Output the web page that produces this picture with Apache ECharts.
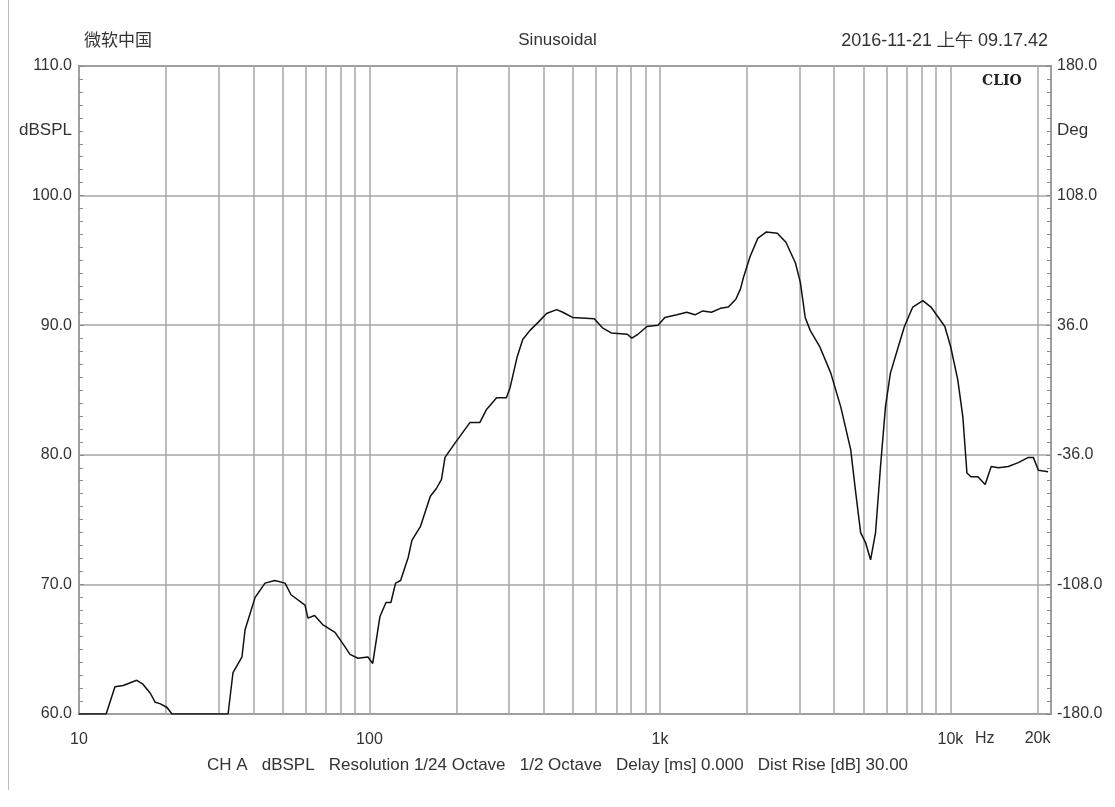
<!DOCTYPE html>
<html>
<head>
<meta charset="utf-8">
<script src="https://cdn.jsdelivr.net/npm/echarts@6/dist/echarts.min.js"></script>
<style>
html,body{margin:0;padding:0;background:#fff;}
#main{width:1115px;height:807px;}
</style>
</head>
<body>
<div id="main"></div>
<script>
// frequency response
var freqs = [10, 12.4, 13.3, 14.2, 15.8, 16.6, 17.6, 18.3, 19.0, 20.1, 20.9,
    32.6, 33.9, 36.4, 37.3, 40.4, 43.7, 47.2, 51.2, 53.7, 60.0, 61.4, 64.7, 69.0,
    76.1, 82.3, 85.7, 91.3, 98.8, 102.6, 108.6, 114, 118.5, 123, 128, 136, 140,
    150, 162, 170, 177, 182, 197, 222, 240, 253, 274, 296, 305, 322, 337, 357,
    380, 407, 441, 463, 500, 594, 634, 680, 772, 800, 840, 902, 985, 1040, 1144,
    1237, 1320, 1405, 1505, 1615, 1720, 1825, 1894, 1940, 2044, 2172, 2326, 2536,
    2715, 2928, 3044, 3163, 3291, 3557, 3875, 4193, 4537, 4720, 4909, 5108, 5312,
    5525, 5747, 5976, 6215, 6570, 6946, 7421, 8037, 8572, 9570, 10030, 10600,
    11040, 11400, 11770, 12440, 13170, 13820, 14630, 15830, 17130, 18550, 19300,
    20090, 21700];
var spl = [60, 60, 62.1, 62.2, 62.6, 62.3, 61.6, 60.9, 60.8, 60.5, 60,
    60, 63.2, 64.4, 66.5, 69.0, 70.1, 70.3, 70.1, 69.2, 68.4, 67.4, 67.6, 66.9,
    66.3, 65.2, 64.6, 64.3, 64.4, 63.9, 67.5, 68.6, 68.6, 70.1, 70.3, 72.1, 73.4,
    74.5, 76.8, 77.4, 78.1, 79.8, 80.9, 82.5, 82.5, 83.5, 84.4, 84.4, 85.2, 87.5, 88.9, 89.6,
    90.2, 90.9, 91.2, 91.0, 90.6, 90.5, 89.8, 89.4, 89.3, 89.0, 89.3, 89.9, 90.0, 90.6, 90.8,
    91.0, 90.8, 91.1, 91.0, 91.3, 91.4, 92.0, 92.8, 93.7, 95.3, 96.7, 97.2, 97.1,
    96.4, 94.8, 93.3, 90.6, 89.6, 88.3, 86.3, 83.7, 80.4, 77.1, 74.0, 73.2, 71.9,
    74.0, 79.1, 83.7, 86.3, 88.1, 89.9, 91.4, 91.9, 91.4, 89.9, 88.3, 85.8,
    82.9, 78.6, 78.3, 78.3, 77.7, 79.1, 79.0, 79.1, 79.4, 79.8, 79.8,
    78.8, 78.7];
// minor vertical grid lines (Hz)
var gridFreqs = [20, 30, 40, 50, 60, 70, 80, 90, 200, 300, 400, 500, 600, 700, 800, 900,
    2000, 3000, 4000, 5000, 6000, 7000, 8000, 9000, 20000];
var xTickNames = {1: '10', 2: '100', 3: '1k', 4: '10k'};
var fMax = 22200;

var font = '"Liberation Sans", Arial, sans-serif';
var txt = '#333';

var lineData = [];
for (var i = 0; i < freqs.length; i++) {
    lineData.push([Math.log10(freqs[i]), spl[i]]);
}
var marks = [];
for (var k = 0; k < gridFreqs.length; k++) {
    var m = {xAxis: Math.log10(gridFreqs[k])};
    if (gridFreqs[k] == 20000) {
        m.label = {show: true, position: 'start', formatter: '20k', distance: 17,
            color: txt, fontSize: 16, fontFamily: font};
    }
    marks.push(m);
}

var myChart = echarts.init(document.getElementById('main'));
var option = {
    backgroundColor: '#fff',
    animation: false,
    title: [
        {text: '微软中国', left: 79, top: 26, textStyle: {fontSize: 17, fontWeight: 'normal', color: txt, fontFamily: '"Noto Sans CJK SC", sans-serif'}},
        {text: 'Sinusoidal', left: 'center', top: 27, textStyle: {fontSize: 17, fontWeight: 'normal', color: txt, fontFamily: font}},
        {text: '2016-11-21 上午 09.17.42', right: 62, top: 27, textStyle: {fontSize: 18, fontWeight: 'normal', color: txt, fontFamily: font}},
        {text: 'CLIO', left: 977, top: 69, textStyle: {fontSize: 14, fontWeight: 'bold', color: '#222', fontFamily: '"DejaVu Serif", serif'}},
        {text: 'CH A   dBSPL   Resolution 1/24 Octave   1/2 Octave   Delay [ms] 0.000   Dist Rise [dB] 30.00',
            left: 'center', top: 752, textStyle: {fontSize: 17, fontWeight: 'normal', color: txt, fontFamily: font}}
    ],
    grid: {left: 79, right: 64, top: 66, bottom: 93, show: true, borderColor: '#8c8c8c', borderWidth: 2},
    xAxis: {
        type: 'value', min: 1, max: Math.log10(fMax), interval: 1,
        axisLine: {show: false}, axisTick: {show: false},
        splitLine: {show: true, lineStyle: {color: '#a6a6a6', width: 1.5}},
        axisLabel: {margin: 18, color: txt, fontSize: 16, fontFamily: font,
            formatter: function (v) { return xTickNames[Math.round(v * 1000) / 1000] || ''; }}
    },
    yAxis: [{
        type: 'value', min: 60, max: 110, interval: 10, position: 'left',
        axisLine: {show: false},
        axisTick: {show: true, inside: true, length: 5, lineStyle: {color: '#8c8c8c'}},
        minorTick: {show: true, splitNumber: 10, length: 4, lineStyle: {color: '#8c8c8c'}},
        splitLine: {show: true, lineStyle: {color: '#a6a6a6', width: 1.5}},
        axisLabel: {margin: 7, color: txt, fontSize: 16, fontFamily: font,
            formatter: function (v) { return v.toFixed(1); }}
    }, {
        type: 'value', min: -180, max: 180, interval: 72, position: 'right',
        axisLine: {show: false},
        axisTick: {show: true, inside: true, length: 5, lineStyle: {color: '#8c8c8c'}},
        minorTick: {show: true, splitNumber: 10, length: 4, lineStyle: {color: '#8c8c8c'}},
        splitLine: {show: false},
        axisLabel: {margin: 6, color: txt, fontSize: 16, fontFamily: font,
            formatter: function (v) { return v.toFixed(1); }}
    }, {
        // axis name at 105 dB
        type: 'value', min: 60, max: 110, interval: 5, position: 'left',
        axisLine: {show: false}, axisTick: {show: false}, splitLine: {show: false},
        axisLabel: {margin: 7, color: txt, fontSize: 17, fontFamily: font,
            formatter: function (v) { return v == 105 ? 'dBSPL' : ''; }}
    }, {
        type: 'value', min: -180, max: 180, interval: 36, position: 'right',
        axisLine: {show: false}, axisTick: {show: false}, splitLine: {show: false},
        axisLabel: {margin: 6, color: txt, fontSize: 17, fontFamily: font,
            formatter: function (v) { return v == 144 ? 'Deg' : ''; }}
    }],
    series: [{
        name: 'SPL',
        type: 'line',
        data: lineData,
        showSymbol: false,
        lineStyle: {color: '#111', width: 1.5},
        markLine: {
            silent: true, symbol: 'none', animation: false,
            lineStyle: {color: '#a6a6a6', width: 1.5, type: 'solid'},
            label: {show: false},
            data: marks
        },
        z: 5
    }],
    graphic: [
        {type: 'line', shape: {x1: 8.5, y1: 0, x2: 8.5, y2: 790}, style: {stroke: '#bbb', lineWidth: 1}},
        {type: 'text', left: 975, top: 731, style: {text: 'Hz', fill: txt, font: '16px ' + font}}
    ]
};
myChart.setOption(option);
</script>
</body>
</html>
